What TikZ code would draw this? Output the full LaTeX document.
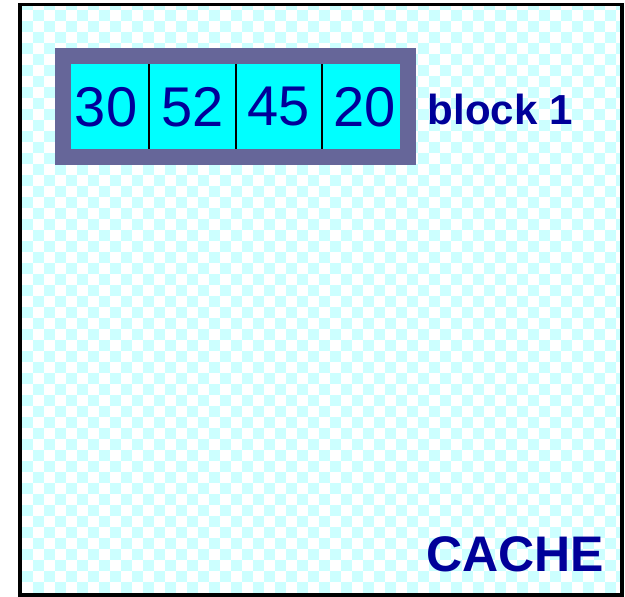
\documentclass[tikz,border=0pt]{standalone}
\usepackage{fontspec}
\setmainfont{Liberation Sans}
\usepackage{tikz}
\usetikzlibrary{positioning, fit}
\definecolor{chkCyan}{RGB}{204,255,255}
\definecolor{cellFill}{RGB}{0,255,255}
\definecolor{blkFrame}{RGB}{102,102,153}
\definecolor{txtBlue}{RGB}{0,0,153}

\begin{document}
\begin{tikzpicture}[
    x=1pt, y=1pt,
    cell/.style={rectangle, draw=black, line width=2pt, fill=cellFill, inner sep=0pt, outer sep=0pt, minimum width=86.25pt, minimum height=101.5pt, text=txtBlue, font=\fontsize{56}{60}\selectfont},
    frame/.style={rectangle, draw=blkFrame, line width=16pt, inner sep=0pt},
    lbl/.style={inner sep=0pt, text=txtBlue, font=\bfseries\fontsize{42}{48}\selectfont},
    biglbl/.style={inner sep=0pt, text=txtBlue, font=\bfseries\fontsize{50}{56}\selectfont}
]
\useasboundingbox (0,0) rectangle (625,597);

% --- Fundo quadriculado ---
\begin{scope}
\clip (20,2) rectangle (622,592.3);
\fill[white] (20,2) rectangle (622,592.3);
\foreach \i in {0,2,...,54} {
  \foreach \j in {0,2,...,54} {
    \fill[chkCyan] (22.3+11*\i,597.7-11*\j) rectangle ++(11,-11);
    \fill[chkCyan] (33.3+11*\i,586.7-11*\j) rectangle ++(11,-11);
  }
}
\end{scope}

% --- Moldura da cache ---
\draw[line width=3.5pt] (20,2) rectangle (622,592.3);

% --- Bloco com quatro palavras ---
\node[cell] (c1) at (106.125,490.25) {30};
\node[cell, right=0pt of c1] (c2) {52};
\node[cell, right=0pt of c2] (c3) {45};
\node[cell, right=0pt of c3] (c4) {20};

\node[frame, fit=(c1)(c4)] (blk) {};

\node[lbl, right=11.5pt of blk, yshift=-2.5pt] (blkname) {block 1};

% --- Rótulo ---
\node[biglbl, anchor=base east] (cache) at (604,25.3) {CACHE};

\end{tikzpicture}
\end{document}
